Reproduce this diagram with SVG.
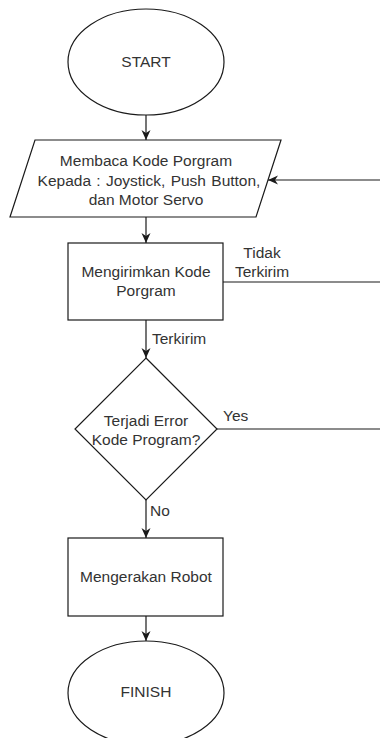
<svg xmlns="http://www.w3.org/2000/svg" width="380" height="738" viewBox="0 0 380 738">
<defs>
<style>
.shape{fill:#fff;stroke:#1a1a1a;stroke-width:1.2}
.t{font-family:"Liberation Sans",Arial,sans-serif;font-size:15.5px;fill:#333;text-anchor:middle}
.l{font-family:"Liberation Sans",Arial,sans-serif;font-size:15.5px;fill:#333}
.c{fill:none;stroke:#1a1a1a;stroke-width:1.2}
</style>
<marker id="arr" markerUnits="userSpaceOnUse" markerWidth="11" markerHeight="10" refX="10" refY="4.5" orient="auto">
<path d="M0,0 L10,4.5 L0,9 L3,4.5 Z" fill="#1a1a1a"/>
</marker>
</defs>
<rect width="380" height="738" fill="#fff"/>
<g id="connectors">
<path class="c" d="M146,115 V140" marker-end="url(#arr)"/>
<path class="c" d="M146,217 V243" marker-end="url(#arr)"/>
<path class="c" d="M146,320 V358" marker-end="url(#arr)"/>
<path class="c" d="M146,500 V538" marker-end="url(#arr)"/>
<path class="c" d="M146,616 V641" marker-end="url(#arr)"/>
<path class="c" d="M223,282 H380"/>
<path class="c" d="M217,429 H380"/>
<path class="c" d="M380,180 H268" marker-end="url(#arr)"/>
<text class="l" x="262" y="257.5" text-anchor="middle">Tidak</text>
<text class="l" x="262" y="277" text-anchor="middle">Terkirim</text>
<text class="l" x="152" y="344">Terkirim</text>
<text class="l" x="223" y="421">Yes</text>
<text class="l" x="150" y="516">No</text>
</g>
<g id="start">
<ellipse class="shape" cx="146" cy="62" rx="78" ry="53"/>
<text class="t" x="146" y="67">START</text>
</g>
<g id="read">
<polygon class="shape" points="35,140 281,140 256,217 10,217"/>
<text class="t" x="146" y="165.5">Membaca Kode Porgram</text>
<text class="t" x="149" y="185.5" word-spacing="1">Kepada : Joystick, Push Button,</text>
<text class="t" x="146" y="205">dan Motor Servo</text>
</g>
<g id="send">
<rect class="shape" x="68" y="243" width="155" height="77"/>
<text class="t" x="146" y="277">Mengirimkan Kode</text>
<text class="t" x="146" y="296">Porgram</text>
</g>
<g id="decision">
<polygon class="shape" points="146,358 217,429 146,500 75,429"/>
<text class="t" x="146" y="425.5">Terjadi Error</text>
<text class="t" x="146" y="445">Kode Program?</text>
</g>
<g id="move">
<rect class="shape" x="68" y="538" width="155" height="78"/>
<text class="t" x="146" y="581.5">Mengerakan Robot</text>
</g>
<g id="finish">
<ellipse class="shape" cx="146" cy="693" rx="78" ry="52"/>
<text class="t" x="146" y="697">FINISH</text>
</g>
</svg>
